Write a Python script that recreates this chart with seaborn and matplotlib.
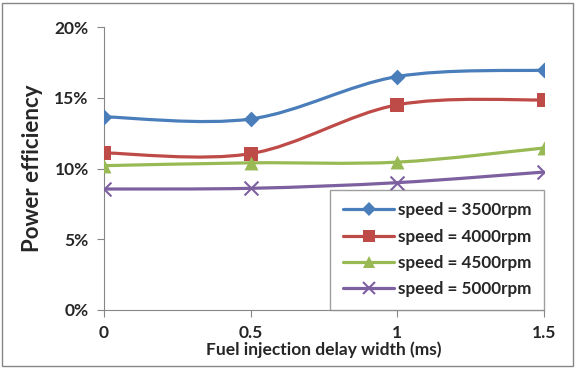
import numpy as np
import pandas as pd
import matplotlib
matplotlib.use("Agg")
import matplotlib.pyplot as plt
from matplotlib.path import Path
from matplotlib.patches import PathPatch, Rectangle
from matplotlib.lines import Line2D
from matplotlib.ticker import FuncFormatter
import seaborn as sns

delay = [0, 0.5, 1, 1.5]
series_names = ["speed = 3500rpm", "speed = 4000rpm", "speed = 4500rpm", "speed = 5000rpm"]
eff_3500 = [0.1365, 0.1350, 0.1650, 0.1695]
eff_4000 = [0.1110, 0.1105, 0.1450, 0.1485]
eff_4500 = [0.1020, 0.1040, 0.1045, 0.1145]
eff_5000 = [0.0855, 0.0860, 0.0900, 0.0975]
colors = ["#4A7EBB", "#BE4B48", "#98B954", "#7D60A0"]
markers = ["D", "s", "^", "x"]
msizes = [8, 10, 10, 10]

sns.set_theme(style="white")
plt.rcParams['font.family'] = ['Lato', 'DejaVu Sans']

fig = plt.figure(figsize=(5.76, 3.68), dpi=100)
ax = fig.add_axes([104/576, 1-310/368, 440/576, 283/368])

data = [eff_3500, eff_4000, eff_4500, eff_5000]
rows = []
for name, vals in zip(series_names, data):
    for x, y in zip(delay, vals):
        rows.append({"delay": x, "eff": y, "series": name})
df = pd.DataFrame(rows)

def smooth_path(xs, ys):
    pts = np.column_stack([xs, ys])
    n = len(pts)
    verts = [pts[0]]
    codes = [Path.MOVETO]
    for i in range(n - 1):
        p0 = pts[i - 1] if i > 0 else pts[i]
        p1 = pts[i]
        p2 = pts[i + 1]
        p3 = pts[i + 2] if i + 2 < n else pts[i + 1]
        c1 = p1 + (p2 - p0) / 6.0
        c2 = p2 - (p3 - p1) / 6.0
        verts += [c1, c2, p2]
        codes += [Path.CURVE4] * 3
    return Path(verts, codes)

handles = []
for name, vals, c, m, ms in zip(series_names, data, colors, markers, msizes):
    patch = PathPatch(smooth_path(delay, vals), fill=False, edgecolor=c, lw=2.3, zorder=2)
    ax.add_patch(patch)
    sub = df[df.series == name]
    if m == "x":
        sns.scatterplot(data=sub, x="delay", y="eff", marker="x", color=c, s=ms**2, linewidth=1.5, ax=ax, zorder=3, legend=False)
    else:
        sns.scatterplot(data=sub, x="delay", y="eff", marker=m, color=c, s=ms**2, linewidth=0, ax=ax, zorder=3, legend=False)
    handles.append(Line2D([0], [0], color=c, lw=2.3, marker=m, markersize=ms*0.9,
                          markeredgewidth=1.5 if m == "x" else 0, markerfacecolor=c, markeredgecolor=c))

ax.set_xlim(0, 1.5)
ax.set_ylim(0, 0.20)
ax.set_xticks(delay)
ax.set_xticklabels(["0", "0.5", "1", "1.5"])
ax.set_yticks([0, 0.05, 0.10, 0.15, 0.20])
ax.yaxis.set_major_formatter(FuncFormatter(lambda v, p: f"{v*100:.0f}%"))
for lab in ax.get_xticklabels() + ax.get_yticklabels():
    lab.set_fontweight("bold")
    lab.set_fontsize(12.5)
ax.tick_params(axis="both", direction="out", length=5, width=0.8, color="#868686", pad=6, bottom=True, left=True)
for s in ["top", "right"]:
    ax.spines[s].set_visible(False)
for s in ["left", "bottom"]:
    ax.spines[s].set_color("#868686")
    ax.spines[s].set_linewidth(0.8)
ax.set_xlabel("Fuel injection delay width (ms)", fontsize=12.5, fontweight="bold", labelpad=0)
ax.set_ylabel("Power efficiency", fontsize=16, fontweight="bold", labelpad=8)
ax.patch.set_alpha(0)

leg = ax.legend(handles, series_names, loc="lower right", bbox_to_anchor=(1.0, 0.0),
                frameon=True, fancybox=False, handlelength=3.0,
                borderpad=0.75, labelspacing=0.6, handletextpad=0.2, borderaxespad=0.0,
                prop={"weight": "bold", "size": 12.3})
leg.get_frame().set_edgecolor("#868686")
leg.get_frame().set_linewidth(1.0)

fig.patches.append(Rectangle((2/576, 2/368), 1-5/576, 1-5/368, transform=fig.transFigure,
                             fill=False, edgecolor="#868686", lw=1.0))

fig.savefig("out.png", dpi=100)
